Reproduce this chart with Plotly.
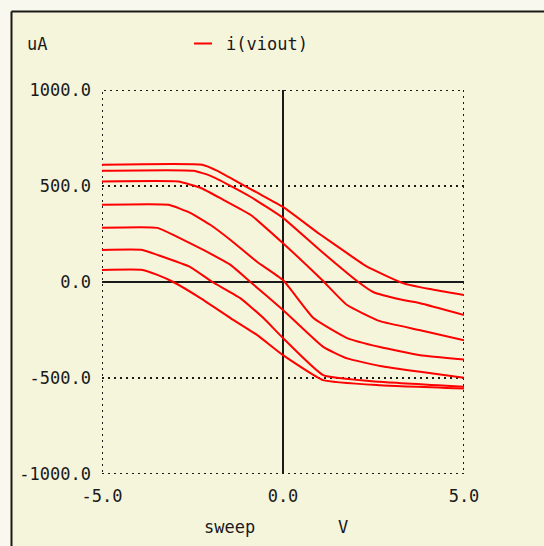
import plotly.graph_objects as go

# ---- data (sweep V, current uA) ----
sweep_1 = [-5.0, -2.23, -1.81, -1.26, -0.71, 0.0, 1.0, 1.75, 2.32, 3.33, 4.06, 5.0]
curr_1 = [611, 611, 579, 522, 465, 391, 251, 153, 80, -7, -37, -68]

sweep_2 = [-5.0, -2.47, -2.0, -1.45, -0.90, 0.0, 1.0, 2.08, 2.49, 3.32, 3.79, 5.0]
curr_2 = [579, 579, 553, 501, 444, 334, 169, 0, -52, -94, -111, -172]

sweep_3 = [-5.0, -2.89, -2.28, -1.65, -0.90, 0.0, 1.08, 1.77, 2.68, 3.79, 5.0]
curr_3 = [523, 523, 491, 428, 350, 202, 10, -120, -204, -251, -303]

sweep_4 = [-5.0, -3.16, -2.56, -2.0, -1.45, -0.71, 0.0, 0.84, 1.77, 2.68, 3.79, 5.0]
curr_4 = [402, 402, 360, 297, 219, 104, 10, -188, -292, -339, -381, -403]

sweep_5 = [-5.0, -3.47, -2.92, -2.20, -1.45, -0.90, 0.0, 1.11, 1.77, 2.68, 3.79, 5.0]
curr_5 = [282, 282, 235, 167, 89, 0, -146, -338, -398, -437, -468, -499]

sweep_6 = [-5.0, -3.88, -3.47, -2.56, -1.95, -1.18, -0.54, 0.0, 1.11, 2.68, 5.0]
curr_6 = [167, 167, 141, 78, 0, -84, -188, -292, -485, -520, -546]

sweep_7 = [-5.0, -3.88, -3.47, -3.03, -2.28, -1.45, -0.71, 0.0, 1.11, 2.68, 5.0]
curr_7 = [63, 63, 37, 0, -84, -188, -277, -381, -511, -538, -555]

sweeps = [sweep_1, sweep_2, sweep_3, sweep_4, sweep_5, sweep_6, sweep_7]
currents = [curr_1, curr_2, curr_3, curr_4, curr_5, curr_6, curr_7]

x_ticks = [-5, 0, 5]
x_tick_labels = ["-5.0", "0.0", "5.0"]
y_ticks = [-1000, -500, 0, 500, 1000]
y_tick_labels = ["-1000.0", "-500.0", "0.0", "500.0", "1000.0"]

series_name = "i(viout)"
y_unit = "uA"
x_name = "sweep"
x_unit = "V"

# ---- layout geometry ----
W, H = 544, 546
L, R, T, B = 102, 80, 90, 72
PW, PH = W - L - R, H - T - B

def px(x):
    return (x - L) / PW

def py(y):
    return (H - B - y) / PH

BG = "#f5f5dc"
OUTER = "#f8f8ee"
INK = "#1a1a1a"
RED = "#ff0000"
FONT = "DejaVu Sans Mono"
DOT = "2px,4px"

fig = go.Figure()
for sx, cy in zip(sweeps, currents):
    fig.add_trace(go.Scatter(
        x=sx, y=cy, mode="lines", name=series_name, showlegend=False,
        line=dict(color=RED, width=2, shape="spline", smoothing=0.4),
        hoverinfo="skip",
    ))

shapes = []
# outer light strip + border lines
shapes.append(dict(type="rect", xref="paper", yref="paper", x0=px(0), x1=px(W), y0=py(0), y1=py(10),
                   fillcolor=OUTER, line=dict(width=0), layer="below"))
shapes.append(dict(type="rect", xref="paper", yref="paper", x0=px(0), x1=px(10), y0=py(0), y1=py(H),
                   fillcolor=OUTER, line=dict(width=0), layer="below"))
shapes.append(dict(type="line", xref="paper", yref="paper", x0=px(11.5), x1=px(W), y0=py(11.5), y1=py(11.5),
                   line=dict(color=INK, width=2)))
shapes.append(dict(type="line", xref="paper", yref="paper", x0=px(11.5), x1=px(11.5), y0=py(11.5), y1=py(H),
                   line=dict(color=INK, width=2)))
# dotted frame & grid
shapes.append(dict(type="rect", xref="x", yref="y", x0=x_ticks[0], x1=x_ticks[-1], y0=y_ticks[0], y1=y_ticks[-1],
                   line=dict(color=INK, width=2, dash=DOT), layer="below"))
for yv in (y_ticks[1], y_ticks[3]):
    shapes.append(dict(type="line", xref="x", yref="y", x0=x_ticks[0], x1=x_ticks[-1], y0=yv, y1=yv,
                       line=dict(color=INK, width=2, dash=DOT), layer="below"))
# solid zero axes
shapes.append(dict(type="line", xref="x", yref="y", x0=x_ticks[0], x1=x_ticks[-1], y0=0, y1=0,
                   line=dict(color=INK, width=2), layer="below"))
shapes.append(dict(type="line", xref="x", yref="y", x0=0, x1=0, y0=y_ticks[0], y1=y_ticks[-1],
                   line=dict(color=INK, width=2), layer="below"))
# legend sample
shapes.append(dict(type="line", xref="paper", yref="paper", x0=px(194), x1=px(212), y0=py(43.5), y1=py(43.5),
                   line=dict(color=RED, width=2)))

annotations = [
    dict(text=y_unit, xref="paper", yref="paper", x=px(25), y=py(44), xanchor="left", yanchor="middle",
         showarrow=False, font=dict(family=FONT, size=17, color=INK)),
    dict(text=series_name, xref="paper", yref="paper", x=px(224), y=py(44), xanchor="left", yanchor="middle",
         showarrow=False, font=dict(family=FONT, size=17, color=INK)),
    dict(text=x_name, xref="paper", yref="paper", x=px(229), y=py(527), xanchor="center", yanchor="middle",
         showarrow=False, font=dict(family=FONT, size=17, color=INK)),
    dict(text=x_unit, xref="paper", yref="paper", x=px(342.5), y=py(527), xanchor="center", yanchor="middle",
         showarrow=False, font=dict(family=FONT, size=17, color=INK)),
]

fig.update_layout(
    width=W, height=H,
    margin=dict(l=L, r=R, t=T, b=B, pad=0),
    paper_bgcolor=BG, plot_bgcolor=BG,
    shapes=shapes, annotations=annotations,
    showlegend=False,
    font=dict(family=FONT, size=17, color=INK),
)
fig.update_xaxes(range=[x_ticks[0], x_ticks[-1]], tickvals=x_ticks, ticktext=x_tick_labels,
                 showgrid=False, zeroline=False, showline=False, ticks="", ticklabelstandoff=10,
                 tickfont=dict(family=FONT, size=17, color=INK), fixedrange=True)
fig.update_yaxes(range=[y_ticks[0], y_ticks[-1]], tickvals=y_ticks, ticktext=y_tick_labels,
                 showgrid=False, zeroline=False, showline=False, ticks="", ticklabelstandoff=10,
                 tickfont=dict(family=FONT, size=17, color=INK), fixedrange=True)

fig.write_html(
    "out.html",
    config={"displayModeBar": False},
    post_script="document.body.style.margin='0';document.body.style.overflow='hidden';",
)
